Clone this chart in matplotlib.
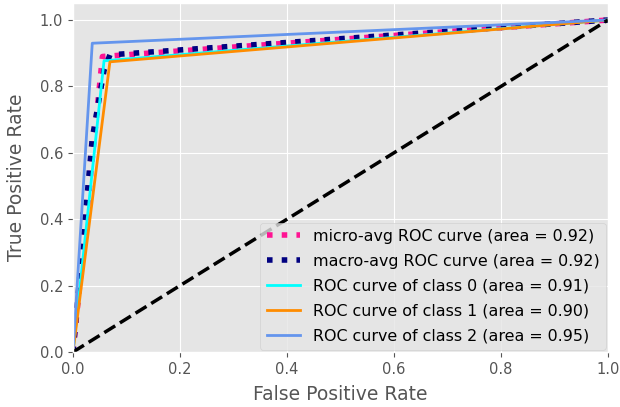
import matplotlib
matplotlib.use("Agg")
import matplotlib.pyplot as plt

plt.style.use("ggplot")

# ROC operating points (false positive rate, true positive rate)
micro_fpr = [0.0, 0.055, 1.0]
micro_tpr = [0.0, 0.89, 1.0]
micro_auc = 0.92

macro_fpr = [0.0, 0.036, 0.058, 0.069, 1.0]
macro_tpr = [0.0, 0.643, 0.848, 0.895, 1.0]
macro_auc = 0.92

class_fpr = [[0.0, 0.058, 1.0], [0.0, 0.069, 1.0], [0.0, 0.036, 1.0]]
class_tpr = [[0.0, 0.877, 1.0], [0.0, 0.874, 1.0], [0.0, 0.93, 1.0]]
class_auc = [0.91, 0.90, 0.95]
class_colors = ["aqua", "darkorange", "cornflowerblue"]

fig = plt.figure(figsize=(6.2, 4.07), dpi=100)
ax = fig.add_axes([73 / 620, 1 - 352 / 407, (608 - 73) / 620, (352 - 3.4) / 407])

ax.plot(micro_fpr, micro_tpr, color="deeppink", linestyle=":", linewidth=4,
        label="micro-avg ROC curve (area = {0:0.2f})".format(micro_auc))
ax.plot(macro_fpr, macro_tpr, color="navy", linestyle=":", linewidth=4,
        label="macro-avg ROC curve (area = {0:0.2f})".format(macro_auc))
for i, color in enumerate(class_colors):
    ax.plot(class_fpr[i], class_tpr[i], color=color, linewidth=2,
            label="ROC curve of class {0} (area = {1:0.2f})".format(i, class_auc[i]))

ax.plot([0, 1], [0, 1], "k--", linewidth=2.5)
ax.set_xlim([0.0, 1.0])
ax.set_ylim([0.0, 1.05])
ax.tick_params(labelsize=10.5)
ax.set_xlabel("False Positive Rate", fontsize=13.5, labelpad=6)
ax.set_ylabel("True Positive Rate", fontsize=13.5, labelpad=10)
ax.legend(loc="lower right", fontsize=11.4, borderaxespad=0.15,
          labelspacing=0.62, handlelength=2.1)

fig.savefig("out.png", dpi=100)
